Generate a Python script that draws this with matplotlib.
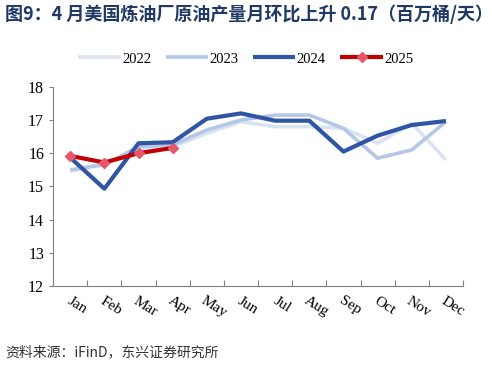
import numpy as np
import matplotlib
matplotlib.use("Agg")
import matplotlib.pyplot as plt
import matplotlib.transforms as mtransforms

# data
months = ["Jan", "Feb", "Mar", "Apr", "May", "Jun", "Jul", "Aug", "Sep", "Oct", "Nov", "Dec"]
y2022 = [15.45, 15.7, 16.1, 16.2, 16.6, 16.95, 16.8, 16.8, 16.75, 16.3, 16.9, 15.8]
y2023 = [15.5, 15.65, 16.2, 16.25, 16.7, 17.0, 17.15, 17.15, 16.75, 15.85, 16.1, 16.95]
y2024 = [15.87, 14.93, 16.3, 16.33, 17.04, 17.2, 16.98, 16.98, 16.05, 16.53, 16.85, 16.97]
y2025 = [15.92, 15.72, 16.0, 16.16]

title = "图9：4 月美国炼油厂原油产量月环比上升 0.17（百万桶/天）"
source = "资料来源：iFinD，东兴证券研究所"

plt.rcParams['font.family'] = ['Liberation Serif', 'DejaVu Serif']

fig = plt.figure(figsize=(4.92, 3.68), dpi=100)
ax = fig.add_axes([0.108, 0.223, 0.833, 0.541])

x = np.arange(len(months)) + 0.5
ax.plot(x, y2022, color="#DAE3F3", lw=2.6, label="2022", solid_capstyle="butt")
ax.plot(x, y2023, color="#B4C7E7", lw=2.6, label="2023", solid_capstyle="butt")
ax.plot(x, y2024, color="#2F55A4", lw=3.0, label="2024", solid_capstyle="butt")
ax.plot(x[:len(y2025)], y2025, color="#C00000", lw=3.0, label="2025",
        marker="D", ms=5.5, mfc="#E8566C", mec="#E8566C", solid_capstyle="butt")

ax.set_xlim(0, 12)
ax.set_ylim(12, 18)
ax.set_yticks(range(12, 19))
ax.set_xticks(range(13))
ax.set_xticklabels([])
ax.set_xticks(x, minor=True)
ax.set_xticklabels(months, minor=True, rotation=-32, ha="center", va="top", fontsize=11)
ax.tick_params(axis="x", which="minor", length=0, pad=6)
ax.tick_params(axis="x", which="major", direction="in", length=4, color="#808080")
ax.tick_params(axis="y", direction="out", length=3, color="#808080", labelsize=11.5)

# shift month labels a little to the right like the original
shift = mtransforms.ScaledTranslation(7 / 100, 0, fig.dpi_scale_trans)
for lab in ax.get_xticklabels(minor=True):
    lab.set_transform(lab.get_transform() + shift)

for s in ["top", "right"]:
    ax.spines[s].set_visible(False)
for s in ["left", "bottom"]:
    ax.spines[s].set_color("#808080")

ax.legend(loc="center", bbox_to_anchor=(0.47, 1.14), ncol=4, frameon=False,
          fontsize=10.5, handlelength=2.9, handletextpad=0.1, columnspacing=1.0)

fig.text(0.01, 0.962, title, fontsize=13, fontweight="bold", color="#1F3864",
         family=["Noto Sans CJK SC", "DejaVu Sans"], va="center")
fig.text(0.01, 0.043, source, fontsize=10, color="#333333",
         family=["Noto Sans CJK SC", "DejaVu Sans"], va="center")

fig.savefig("out.png", dpi=100)
